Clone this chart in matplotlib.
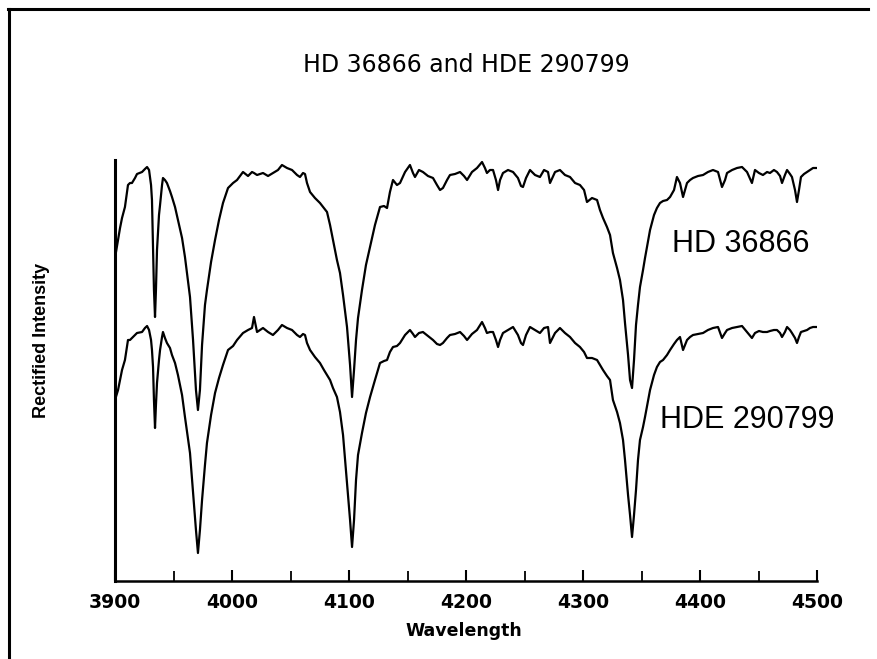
import matplotlib
matplotlib.use("Agg")
import matplotlib.pyplot as plt
from matplotlib.lines import Line2D
from matplotlib.ticker import MultipleLocator

wavelength = [
    3900.0, 3902.6, 3904.3, 3906.0, 3908.5, 3911.1, 3912.8, 3914.5, 3917.1, 3918.8,
    3923.1, 3925.6, 3927.4, 3929.1, 3930.8, 3931.6, 3932.5, 3933.3, 3934.2, 3935.0,
    3935.9, 3937.6, 3938.5, 3940.2, 3941.0, 3942.7, 3944.4, 3947.0, 3948.7, 3951.3,
    3953.8, 3957.3, 3959.8, 3964.1, 3966.7, 3969.2, 3970.9, 3972.6, 3974.4, 3976.9,
    3978.6, 3982.1, 3985.5, 3988.9, 3992.3, 3996.6, 4000.9, 4004.3, 4009.4, 4013.7,
    4017.1, 4018.8, 4021.4, 4026.5, 4030.8, 4035.0, 4039.3, 4042.7, 4047.0, 4051.3,
    4055.6, 4058.1, 4060.7, 4062.4, 4064.1, 4066.7, 4070.9, 4075.2, 4078.6, 4081.2,
    4083.8, 4086.3, 4089.7, 4092.3, 4094.9, 4098.3, 4100.9, 4102.6, 4104.3, 4106.0,
    4107.7, 4111.1, 4114.5, 4118.0, 4122.2, 4126.5, 4129.9, 4132.5, 4135.0, 4137.6,
    4141.0, 4143.6, 4147.9, 4152.1, 4154.7, 4156.4, 4159.8, 4163.2, 4167.5, 4171.8,
    4175.2, 4177.8, 4180.3, 4183.8, 4186.3, 4190.6, 4194.9, 4198.3, 4200.9, 4205.1,
    4209.4, 4213.7, 4216.2, 4217.9, 4220.5, 4223.1, 4225.6, 4227.4, 4229.1, 4231.6,
    4235.9, 4240.2, 4244.4, 4247.0, 4248.7, 4251.3, 4254.7, 4259.0, 4263.2, 4266.7,
    4270.1, 4271.8, 4276.1, 4280.3, 4284.6, 4288.9, 4293.2, 4297.4, 4300.9, 4303.4,
    4307.7, 4312.0, 4314.5, 4317.1, 4320.5, 4323.1, 4325.6, 4329.1, 4331.6, 4334.2,
    4335.9, 4338.5, 4340.2, 4341.9, 4343.6, 4345.3, 4347.0, 4348.7, 4351.3, 4353.0,
    4357.3, 4360.7, 4363.2, 4365.8, 4368.4, 4371.8, 4374.4, 4377.8, 4380.3, 4382.9,
    4385.5, 4388.9, 4391.5, 4394.0, 4398.3, 4402.6, 4406.8, 4411.1, 4415.4, 4418.8,
    4421.4, 4423.1, 4427.4, 4431.6, 4435.9, 4440.2, 4444.4, 4447.0, 4450.4, 4453.8,
    4457.3, 4459.8, 4463.2, 4465.8, 4468.4, 4470.1, 4472.6, 4474.4, 4476.9, 4478.6,
    4481.2, 4482.9, 4484.6, 4486.3, 4488.9, 4491.5, 4494.0, 4496.6, 4499.1,
]

hd36866 = [
    3.23, 3.41, 3.53, 3.63, 3.74, 3.96, 3.98, 3.98, 4.03, 4.07,
    4.09, 4.12, 4.14, 4.11, 3.96, 3.81, 3.31, 2.91, 2.64, 2.91,
    3.31, 3.66, 3.76, 3.96, 4.03, 4.01, 3.98, 3.90, 3.84, 3.74,
    3.61, 3.43, 3.24, 2.84, 2.41, 1.91, 1.71, 1.91, 2.36, 2.76,
    2.91, 3.19, 3.41, 3.61, 3.78, 3.93, 3.98, 4.01, 4.09, 4.05,
    4.09, 4.08, 4.06, 4.08, 4.05, 4.08, 4.11, 4.16, 4.13, 4.11,
    4.06, 4.04, 4.08, 4.07, 3.98, 3.89, 3.83, 3.78, 3.73, 3.69,
    3.56, 3.41, 3.21, 3.08, 2.86, 2.54, 2.16, 1.84, 2.11, 2.41,
    2.63, 2.91, 3.16, 3.34, 3.56, 3.74, 3.75, 3.73, 3.89, 4.01,
    3.96, 3.98, 4.09, 4.16, 4.08, 4.04, 4.11, 4.09, 4.05, 4.03,
    3.96, 3.91, 3.93, 4.01, 4.06, 4.07, 4.09, 4.05, 4.01, 4.09,
    4.13, 4.19, 4.13, 4.08, 4.11, 4.11, 4.01, 3.91, 4.01, 4.08,
    4.11, 4.09, 4.03, 3.95, 3.94, 4.03, 4.11, 4.06, 4.04, 4.11,
    4.09, 3.98, 4.09, 4.11, 4.06, 4.04, 3.98, 3.96, 3.91, 3.79,
    3.83, 3.81, 3.71, 3.63, 3.54, 3.46, 3.28, 3.13, 3.01, 2.81,
    2.58, 2.26, 2.01, 1.93, 2.21, 2.56, 2.76, 2.94, 3.11, 3.23,
    3.51, 3.66, 3.73, 3.78, 3.80, 3.81, 3.84, 3.91, 4.04, 3.98,
    3.84, 3.98, 4.01, 4.03, 4.05, 4.06, 4.09, 4.11, 4.09, 3.94,
    4.01, 4.08, 4.11, 4.13, 4.14, 4.09, 3.98, 4.11, 4.08, 4.06,
    4.09, 4.08, 4.11, 4.09, 4.05, 3.98, 4.06, 4.11, 4.07, 4.04,
    3.91, 3.79, 3.91, 4.04, 4.07, 4.09, 4.11, 4.13, 4.13,
]

hde290799 = [
    1.81, 1.91, 2.01, 2.11, 2.21, 2.41, 2.41, 2.43, 2.46, 2.48,
    2.49, 2.53, 2.55, 2.51, 2.41, 2.31, 2.14, 1.81, 1.53, 1.76,
    1.98, 2.21, 2.31, 2.44, 2.49, 2.43, 2.38, 2.33, 2.26, 2.18,
    2.06, 1.86, 1.64, 1.28, 0.88, 0.51, 0.28, 0.51, 0.81, 1.16,
    1.38, 1.66, 1.88, 2.03, 2.16, 2.31, 2.35, 2.41, 2.48, 2.51,
    2.53, 2.64, 2.49, 2.53, 2.49, 2.46, 2.51, 2.56, 2.53, 2.51,
    2.46, 2.44, 2.47, 2.46, 2.38, 2.31, 2.24, 2.18, 2.11, 2.06,
    2.01, 1.93, 1.84, 1.69, 1.46, 0.98, 0.61, 0.34, 0.61, 1.01,
    1.26, 1.48, 1.68, 1.84, 2.01, 2.18, 2.20, 2.21, 2.29, 2.34,
    2.35, 2.38, 2.46, 2.51, 2.47, 2.44, 2.48, 2.49, 2.45, 2.41,
    2.37, 2.36, 2.38, 2.43, 2.46, 2.47, 2.49, 2.45, 2.41, 2.47,
    2.51, 2.59, 2.53, 2.48, 2.49, 2.49, 2.41, 2.34, 2.41, 2.48,
    2.51, 2.54, 2.46, 2.38, 2.36, 2.46, 2.54, 2.51, 2.48, 2.53,
    2.54, 2.38, 2.48, 2.53, 2.48, 2.44, 2.38, 2.34, 2.29, 2.23,
    2.23, 2.21, 2.16, 2.11, 2.05, 2.01, 1.81, 1.69, 1.58, 1.41,
    1.21, 0.86, 0.66, 0.44, 0.66, 0.91, 1.21, 1.41, 1.54, 1.64,
    1.91, 2.06, 2.14, 2.19, 2.21, 2.26, 2.31, 2.37, 2.41, 2.44,
    2.31, 2.41, 2.44, 2.46, 2.47, 2.48, 2.51, 2.53, 2.54, 2.43,
    2.48, 2.51, 2.53, 2.54, 2.55, 2.49, 2.43, 2.48, 2.50, 2.49,
    2.49, 2.50, 2.51, 2.51, 2.48, 2.44, 2.49, 2.54, 2.51, 2.48,
    2.43, 2.38, 2.44, 2.49, 2.50, 2.51, 2.53, 2.54, 2.54,
]

xticks = [3900, 4000, 4100, 4200, 4300, 4400, 4500]
title = "HD 36866 and HDE 290799"
labels = ["HD 36866", "HDE 290799"]

W, H = 877, 659
fig = plt.figure(figsize=(W / 100, H / 100), dpi=100)
fig.patch.set_facecolor("white")

ax = fig.add_axes([115 / W, 78 / H, 702 / W, 421 / H])
ax.plot(wavelength, hd36866, color="black", lw=1.6, solid_joinstyle="round")
ax.plot(wavelength, hde290799, color="black", lw=1.6, solid_joinstyle="round")

ax.set_xlim(3900, 4500)
ax.set_ylim(0, 4.21)
ax.set_xticks(xticks)
ax.xaxis.set_minor_locator(MultipleLocator(50))
ax.set_yticks([])
for s in ["top", "right"]:
    ax.spines[s].set_visible(False)
ax.spines["left"].set_linewidth(2.2)
ax.spines["bottom"].set_linewidth(1.8)
ax.tick_params(axis="x", which="major", direction="in", length=8, width=1.5, pad=9)
ax.tick_params(axis="x", which="minor", direction="in", length=7, width=1.3)
for lab in ax.get_xticklabels():
    lab.set_fontfamily("DejaVu Sans")
    lab.set_fontweight("bold")
    lab.set_fontsize(13.5)

ax.text(4376, 3.29, labels[0], fontsize=22, family="Liberation Sans", ha="left", va="baseline")
ax.text(4366, 1.53, labels[1], fontsize=22, family="Liberation Sans", ha="left", va="baseline")

fig.text(466 / W, 1 - 72 / H, title, ha="center", va="baseline", fontsize=17,
         family="DejaVu Sans")
fig.text(464 / W, 1 - 636 / H, "Wavelength", ha="center", va="baseline", fontsize=12.5,
         family="DejaVu Sans", fontweight="bold")
fig.text(42 / W, 1 - 340 / H, "Rectified Intensity", ha="center", va="center", rotation=90,
         fontsize=13, family="Liberation Sans", fontweight="bold")

# scanned page frame (left and top edges)
fig.add_artist(Line2D([9 / W, 9 / W], [0, 1 - 9 / H], transform=fig.transFigure,
                      color="black", lw=2.2))
fig.add_artist(Line2D([8 / W, 868 / W], [1 - 9 / H, 1 - 9 / H], transform=fig.transFigure,
                      color="black", lw=2.2))

fig.savefig("out.png", dpi=100, facecolor="white")
